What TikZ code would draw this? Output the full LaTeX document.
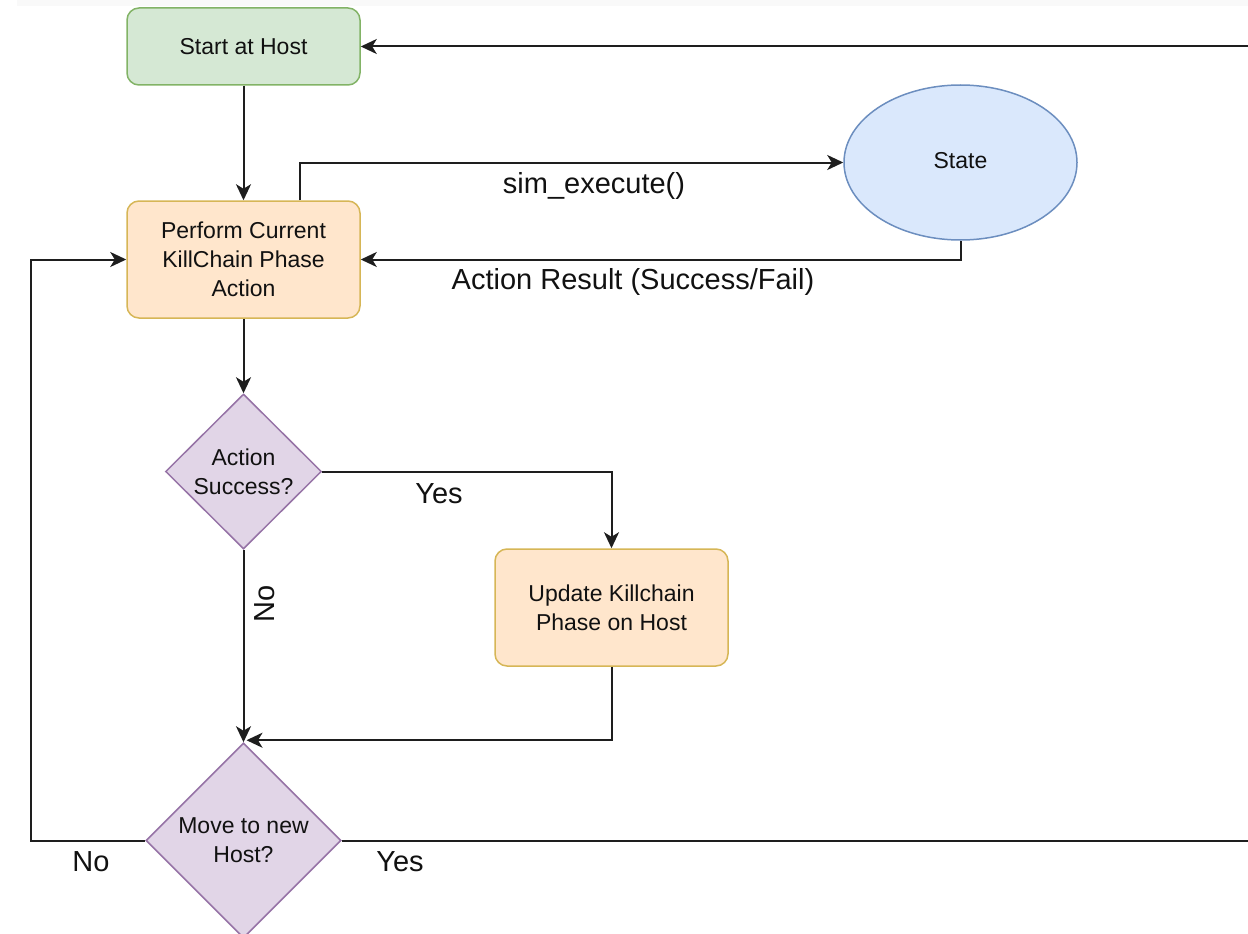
\documentclass[tikz,border=0pt]{standalone}
\usepackage{fontspec}
\setmainfont{Liberation Sans}
\usetikzlibrary{arrows.meta,shapes.geometric,calc}
\definecolor{gfill}{HTML}{D5E8D4}\definecolor{gline}{HTML}{82B366}
\definecolor{ofill}{HTML}{FFE6CC}\definecolor{oline}{HTML}{D6B656}
\definecolor{bfill}{HTML}{DAE8FC}\definecolor{bline}{HTML}{6C8EBF}
\definecolor{pfill}{HTML}{E1D5E7}\definecolor{pline}{HTML}{9673A6}
\definecolor{ink}{HTML}{111111}
\definecolor{edge}{HTML}{1E1E1E}
\tikzset{
  box/.style={draw, rounded corners=12pt, line width=1.5pt, minimum width=233pt, align=center, text=ink, font=\fontsize{23}{29}\selectfont},
  greenbox/.style={box, fill=gfill, draw=gline, minimum height=77pt},
  orangebox/.style={box, fill=ofill, draw=oline, minimum height=117pt},
  dec/.style={diamond, draw=pline, fill=pfill, line width=1.5pt, inner sep=0pt, align=center, text=ink, font=\fontsize{23}{29}\selectfont},
  statenode/.style={ellipse, draw=bline, fill=bfill, line width=1.5pt, minimum width=233pt, minimum height=155pt, text=ink, font=\fontsize{23}{29}\selectfont},
  conn/.style={draw=edge, line width=2pt, -{Stealth[length=16pt,width=15pt,inset=4.5pt]}},
  lab/.style={text=ink, font=\fontsize{29}{35}\selectfont},
}
\begin{document}
\begin{tikzpicture}[x=1pt,y=-1pt]
\useasboundingbox (0,0) rectangle (1248,934);
\fill[gray!5] (17,0) rectangle (1248,6);
\node[greenbox] (start) at (243.5,46.5) {Start at Host};
\node[orangebox] (perf) at (243.5,259.5) {Perform Current\\KillChain Phase\\Action};
\node[statenode] (state) at (960.5,162.5) {\raisebox{4pt}{State}};
\node[dec, minimum width=156pt, minimum height=155pt] (succ) at (243.5,471.5) {Action\\Success?};
\node[dec, minimum width=193pt, minimum height=193pt] (move) at (243.5,840.5) {\raisebox{10pt}{\parbox{150pt}{\centering Move to new\\Host?}}};
\node[orangebox] (upd) at (611.5,607.5) {Update Killchain\\Phase on Host};
\coordinate (farR) at (1260,840.5);
\coordinate (farL) at (31,840.5);

\draw[conn] (start.south) -- (perf.north);
\draw[conn] (perf.north -| 300,0) |- (state.west);
\node[lab] (l1) at (594,186) {sim\_execute()};
\draw[conn] (state.south) |- (perf.east);
\node[lab] (l2) at (633,282) {Action Result (Success/Fail)};
\draw[conn] (perf.south) -- (succ.north);
\draw[conn] (succ.east) -| (upd.north);
\node[lab] (l3) at (439,494) {Yes};
\draw[conn] (succ.south) -- (move.north);
\node[lab, rotate=90] (l4) at (265,604) {No};
\draw[conn] (upd.south) |- ($(move.north)+(3,-2)$);
\draw[conn] (move.west) -- (farL) |- (perf.west);
\node[lab] (l5) at (91,862) {No};
\draw[conn] (move.east) -- (farR) |- (start.east);
\node[lab] (l6) at (400,862) {Yes};
\end{tikzpicture}
\end{document}
